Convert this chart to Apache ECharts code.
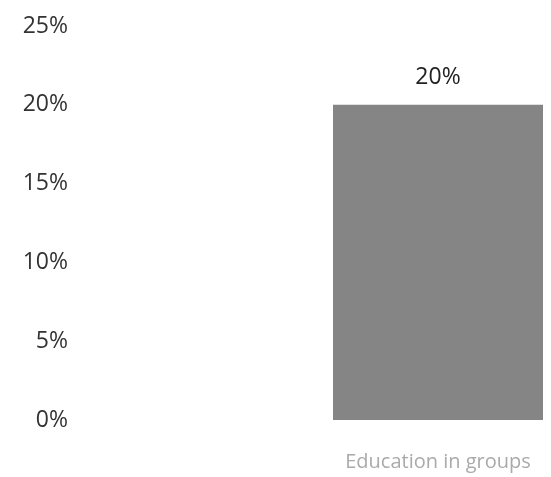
<!DOCTYPE html>
<html>
<head>
<meta charset="utf-8">
<script src="https://cdn.jsdelivr.net/npm/echarts@6/dist/echarts.min.js"></script>
<style>
  html, body { margin: 0; padding: 0; background: #fff; }
  #main { width: 551px; height: 477px; }
</style>
</head>
<body>
<div id="main"></div>
<script>
// data
const categories = ['Education in groups'];
const values = [20];
const yTicks = [0, 5, 10, 15, 20, 25];

const chart = echarts.init(document.getElementById('main'));

const option = {
  animation: false,
  grid: { left: 333, right: 8, top: 26, bottom: 57 },
  xAxis: {
    type: 'category',
    data: categories,
    axisLine: { show: false },
    axisTick: { show: false },
    axisLabel: {
      margin: 32,
      fontFamily: 'Open Sans',
      fontSize: 20,
      color: '#aaa'
    }
  },
  yAxis: {
    type: 'value',
    min: yTicks[0],
    max: yTicks[yTicks.length - 1],
    interval: 5,
    splitLine: { show: false },
    axisLine: { show: false },
    axisTick: { show: false },
    axisLabel: {
      margin: 265,
      fontFamily: 'Open Sans',
      fontSize: 23,
      color: '#333',
      formatter: v => v + '%'
    }
  },
  series: [{
    type: 'bar',
    data: values,
    barWidth: '100%',
    itemStyle: { color: '#858585' },
    label: {
      show: true,
      position: 'top',
      distance: 16,
      fontFamily: 'Open Sans',
      fontSize: 23,
      color: '#222',
      formatter: p => p.value + '%'
    }
  }]
};

chart.setOption(option);
</script>
</body>
</html>
